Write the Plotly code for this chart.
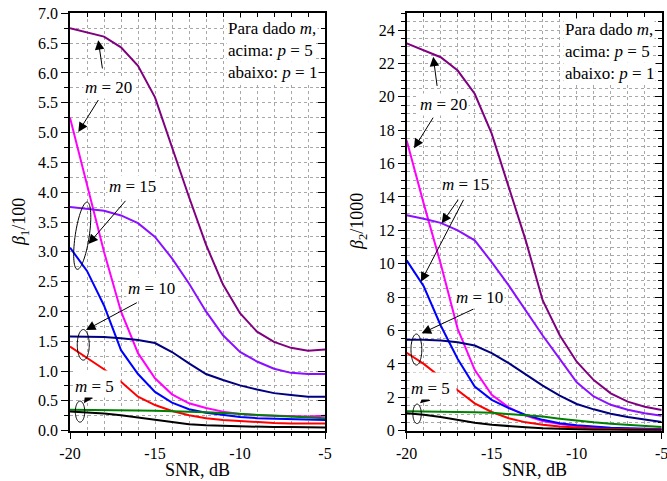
import math
import plotly.graph_objects as go

# SNR grid (dB)
snr = [-20, -19, -18, -17, -16, -15, -14, -13, -12, -11, -10, -9, -8, -7, -6, -5]

# beta_1 / 100  (left panel)
b1_m20_p5 = [6.75, 6.68, 6.61, 6.43, 6.12, 5.59, 4.74, 3.92, 3.12, 2.45, 1.97, 1.66, 1.49, 1.39, 1.34, 1.36]
b1_m20_p1 = [5.25, 4.12, 3.00, 2.00, 1.30, 0.88, 0.61, 0.46, 0.38, 0.32, 0.28, 0.26, 0.25, 0.24, 0.24, 0.25]
b1_m15_p5 = [3.75, 3.72, 3.69, 3.61, 3.48, 3.25, 2.89, 2.47, 2.00, 1.60, 1.32, 1.16, 1.04, 0.97, 0.95, 0.95]
b1_m15_p1 = [3.07, 2.68, 2.10, 1.35, 0.95, 0.65, 0.47, 0.36, 0.30, 0.26, 0.23, 0.21, 0.20, 0.19, 0.19, 0.18]
b1_m10_p5 = [1.58, 1.58, 1.57, 1.55, 1.52, 1.47, 1.32, 1.13, 0.95, 0.85, 0.76, 0.69, 0.63, 0.60, 0.57, 0.57]
b1_m10_p1 = [1.41, 1.22, 1.03, 0.82, 0.57, 0.43, 0.33, 0.26, 0.21, 0.18, 0.16, 0.14, 0.13, 0.12, 0.12, 0.12]
b1_m5_p5 = [0.35, 0.35, 0.35, 0.345, 0.34, 0.335, 0.33, 0.32, 0.31, 0.295, 0.28, 0.265, 0.25, 0.235, 0.22, 0.21]
b1_m5_p1 = [0.32, 0.31, 0.29, 0.26, 0.22, 0.18, 0.14, 0.11, 0.09, 0.08, 0.07, 0.065, 0.06, 0.06, 0.055, 0.055]

# beta_2 / 1000  (right panel)
b2_m20_p5 = [23.2, 22.8, 22.37, 21.57, 20.18, 17.79, 14.6, 11.4, 7.8, 5.72, 4.13, 3.03, 2.24, 1.74, 1.44, 1.24]
b2_m20_p1 = [17.38, 13.6, 10.0, 6.1, 3.65, 2.15, 1.4, 0.9, 0.58, 0.4, 0.28, 0.2, 0.15, 0.12, 0.11, 0.1]
b2_m15_p5 = [12.9, 12.7, 12.45, 12.0, 11.4, 10.1, 8.7, 7.2, 5.7, 4.3, 2.9, 2.05, 1.55, 1.25, 1.05, 0.9]
b2_m15_p1 = [10.2, 8.65, 6.3, 4.3, 2.65, 1.85, 1.35, 0.95, 0.65, 0.45, 0.32, 0.24, 0.18, 0.14, 0.11, 0.09]
b2_m10_p5 = [5.45, 5.45, 5.4, 5.3, 5.1, 4.65, 4.05, 3.35, 2.7, 2.1, 1.6, 1.28, 1.02, 0.82, 0.65, 0.52]
b2_m10_p1 = [4.67, 4.0, 3.2, 2.42, 1.64, 1.12, 0.75, 0.5, 0.35, 0.25, 0.18, 0.13, 0.1, 0.08, 0.07, 0.06]
b2_m5_p5 = [1.17, 1.16, 1.15, 1.13, 1.1, 1.07, 1.01, 0.95, 0.85, 0.72, 0.6, 0.5, 0.42, 0.35, 0.28, 0.22]
b2_m5_p1 = [1.04, 0.96, 0.82, 0.65, 0.48, 0.36, 0.27, 0.2, 0.14, 0.1, 0.08, 0.06, 0.05, 0.04, 0.03, 0.03]

x_tickvals = [-20, -15, -10, -5]
x_ticktext = ["-20", "-15", "-10", "-5"]
y1_tickvals = [0.0, 0.5, 1.0, 1.5, 2.0, 2.5, 3.0, 3.5, 4.0, 4.5, 5.0, 5.5, 6.0, 6.5, 7.0]
y1_ticktext = ["0.0", "0.5", "1.0", "1.5", "2.0", "2.5", "3.0", "3.5", "4.0", "4.5", "5.0", "5.5", "6.0", "6.5", "7.0"]
y2_tickvals = [0, 2, 4, 6, 8, 10, 12, 14, 16, 18, 20, 22, 24]

W, H = 667, 481
FONT = "'Liberation Serif', 'Times New Roman', serif"
XR = [-20, -5]
Y1R = [0, 7]
Y2R = [0, 25]
DOM_L = [70 / W, 325 / W]
DOM_R = [406.7 / W, 661.7 / W]
DOM_Y = [(H - 430.7) / H, (H - 13.3) / H]

series = [
    ("m20p5", "#800080"), ("m20p1", "#FF00FF"),
    ("m15p5", "#8A10FF"), ("m15p1", "#0000FF"),
    ("m10p5", "#000080"), ("m10p1", "#FF0000"),
    ("m5p5", "#008000"), ("m5p1", "#000000"),
]
left_vals = [b1_m20_p5, b1_m20_p1, b1_m15_p5, b1_m15_p1, b1_m10_p5, b1_m10_p1, b1_m5_p5, b1_m5_p1]
right_vals = [b2_m20_p5, b2_m20_p1, b2_m15_p5, b2_m15_p1, b2_m10_p5, b2_m10_p1, b2_m5_p5, b2_m5_p1]

fig = go.Figure()
for (name, col), yl, yr in zip(series, left_vals, right_vals):
    fig.add_trace(go.Scatter(x=snr, y=yl, mode="lines", line=dict(color=col, width=2),
                             xaxis="x", yaxis="y", showlegend=False, name=name))
    fig.add_trace(go.Scatter(x=snr, y=yr, mode="lines", line=dict(color=col, width=2),
                             xaxis="x2", yaxis="y2", showlegend=False, name=name))

# empty traces so the mirrored (inside-tick) axes get drawn
for xa, ya in [("x3", "y3"), ("x4", "y4")]:
    fig.add_trace(go.Scatter(x=[None], y=[None], xaxis=xa, yaxis=ya, showlegend=False, hoverinfo="skip"))

grid = dict(showgrid=True, gridcolor="#a8a8a8", griddash="dot", gridwidth=1)
tickfont = dict(family=FONT, size=16, color="black")


def xaxis_main(domain, anchor):
    return dict(domain=domain, anchor=anchor, range=XR, tickmode="array", tickvals=x_tickvals,
                ticktext=x_ticktext, ticks="outside", ticklen=7, tickwidth=1.2, tickcolor="black",
                showline=True, linecolor="black", linewidth=1.5, mirror=True, zeroline=False,
                automargin=False, ticklabeloverflow="allow", tickfont=tickfont, **grid,
                minor=dict(tickmode="array", tickvals=snr, ticks="outside", ticklen=4, tickwidth=1,
                           tickcolor="black", **grid))


def xaxis_top(over, anchor):
    return dict(overlaying=over, anchor=anchor, side="top", range=XR, tickmode="array",
                tickvals=x_tickvals, ticks="inside", ticklen=7, tickwidth=1.2, tickcolor="black",
                showticklabels=False, showgrid=False, showline=False, zeroline=False, automargin=False,
                minor=dict(tickmode="array", tickvals=snr, ticks="inside", ticklen=4, tickwidth=1,
                           tickcolor="black", showgrid=False))


def yaxis_main(anchor, rng, tv, tt, minor_dtick):
    d = dict(domain=DOM_Y, anchor=anchor, range=rng, tickmode="array", tickvals=tv,
             ticks="outside", ticklen=7, tickwidth=1.2, tickcolor="black",
             showline=True, linecolor="black", linewidth=1.5, mirror=True, zeroline=False,
             automargin=False, tickfont=tickfont, **grid,
             minor=dict(tickmode="linear", tick0=0, dtick=minor_dtick, ticks="outside", ticklen=4,
                        tickwidth=1, tickcolor="black", **grid))
    if tt is not None:
        d["ticktext"] = tt
    return d


def yaxis_right(over, anchor, rng, tv, minor_dtick):
    return dict(overlaying=over, anchor=anchor, side="right", range=rng, tickmode="array",
                tickvals=tv, ticks="inside", ticklen=7, tickwidth=1.2, tickcolor="black",
                showticklabels=False, showgrid=False, showline=False, zeroline=False, automargin=False,
                minor=dict(tickmode="linear", tick0=0, dtick=minor_dtick, ticks="inside", ticklen=4,
                           tickwidth=1, tickcolor="black", showgrid=False))


fig.update_layout(
    template="none",
    width=W, height=H, margin=dict(l=0, r=0, t=0, b=0, pad=0),
    paper_bgcolor="white", plot_bgcolor="white",
    font=dict(family=FONT, size=16, color="black"),
    xaxis=xaxis_main(DOM_L, "y"),
    yaxis=yaxis_main("x", Y1R, y1_tickvals, y1_ticktext, 0.25),
    xaxis2=xaxis_main(DOM_R, "y2"),
    yaxis2=yaxis_main("x2", Y2R, y2_tickvals, None, 0.5),
    xaxis3=xaxis_top("x", "y"),
    yaxis3=yaxis_right("y", "x", Y1R, y1_tickvals, 0.25),
    xaxis4=xaxis_top("x2", "y2"),
    yaxis4=yaxis_right("y2", "x2", Y2R, y2_tickvals, 0.5),
)

# pixel scales of each panel (px per data unit)
plot_w = (DOM_L[1] - DOM_L[0]) * W
plot_h = (DOM_Y[1] - DOM_Y[0]) * H
SX = plot_w / (XR[1] - XR[0])
SY1 = plot_h / (Y1R[1] - Y1R[0])
SY2 = plot_h / (Y2R[1] - Y2R[0])


def ellipse_path(cx, cy, a_px, b_px, ang_deg, sy, n=72):
    """Ellipse with semi-axes in pixels, rotated by ang_deg, expressed in data units."""
    t0 = math.radians(ang_deg)
    pts = []
    for k in range(n + 1):
        t = 2 * math.pi * k / n
        dx, dy = a_px * math.cos(t), b_px * math.sin(t)
        px = dx * math.cos(t0) - dy * math.sin(t0)
        py = dx * math.sin(t0) + dy * math.cos(t0)
        pts.append((cx + px / SX, cy + py / sy))
    return "M " + " L ".join(f"{x:.4f},{y:.4f}" for x, y in pts) + " Z"


shapes = [
    dict(type="path", xref="x", yref="y", path=ellipse_path(-19.28, 3.27, 34, 7, 81.5, SY1)),
    dict(type="path", xref="x", yref="y", path=ellipse_path(-19.22, 1.44, 15.3, 6, 90, SY1)),
    dict(type="path", xref="x", yref="y", path=ellipse_path(-19.41, 0.32, 10.5, 4.7, 90, SY1)),
    dict(type="path", xref="x2", yref="y2", path=ellipse_path(-19.43, 4.86, 15.5, 5.4, 90, SY2)),
    dict(type="path", xref="x2", yref="y2", path=ellipse_path(-19.39, 1.01, 9.7, 4.2, 90, SY2)),
]
for s in shapes:
    s["line"] = dict(color="black", width=1)
fig.update_layout(shapes=shapes)

lab_font = dict(family=FONT, size=17, color="black")
ann = []


def arrow(xr, yr, tail, tip):
    ann.append(dict(xref=xr, yref=yr, axref=xr, ayref=yr, x=tip[0], y=tip[1], ax=tail[0], ay=tail[1],
                    text="", showarrow=True, arrowhead=2, arrowsize=1.9, arrowwidth=1,
                    arrowcolor="black", standoff=0, startstandoff=0))


def label(xr, yr, x, y, txt, **kw):
    d = dict(xref=xr, yref=yr, x=x, y=y, text=txt, showarrow=False, font=lab_font,
             bgcolor="white", borderpad=1)
    d.update(kw)
    ann.append(d)


# left panel
arrow("x", "y", (-18.08, 6.05), (-18.34, 6.55))
arrow("x", "y", (-18.28, 5.57), (-19.51, 5.01))
arrow("x", "y", (-16.66, 3.88), (-18.92, 3.13))
arrow("x", "y", (-15.98, 2.16), (-19.06, 1.69))
arrow("x", "y", (-18.68, 0.67), (-19.18, 0.46))
label("x", "y", -17.76, 5.76, "<i>m</i> = 20")
label("x", "y", -16.32, 4.10, "<i>m</i> = 15")
label("x", "y", -15.18, 2.39, "<i>m</i> = 10")
label("x", "y", -18.41, 0.78, "<i>m</i> = 5", width=44, height=24, align="left", valign="bottom")

# right panel
arrow("x2", "y2", (-18.20, 20.56), (-18.44, 22.40))
arrow("x2", "y2", (-18.39, 18.84), (-19.57, 16.91))
arrow("x2", "y2", (-16.91, 13.92), (-17.94, 12.42))
arrow("x2", "y2", (-16.61, 13.92), (-19.16, 8.92))
arrow("x2", "y2", (-15.98, 7.33), (-19.12, 5.83))
arrow("x2", "y2", (-18.53, 2.24), (-19.22, 1.64))
label("x2", "y2", -17.86, 19.56, "<i>m</i> = 20")
label("x2", "y2", -16.57, 14.77, "<i>m</i> = 15")
label("x2", "y2", -15.69, 7.98, "<i>m</i> = 10")
label("x2", "y2", -18.45, 2.67, "<i>m</i> = 5", width=44, height=24, align="left", valign="bottom")

# note boxes
note = ["Para dado <i>m</i>,", "acima: <i>p</i> = 5", "abaixo: <i>p</i> = 1"]
for i, line in enumerate(note):
    label("x", "y", -10.84, [6.74, 6.37, 6.00][i], line, xanchor="left")
    label("x2", "y2", -10.82, [24.05, 22.74, 21.42][i], line, xanchor="left")

# axis titles
tfont = dict(family=FONT, size=18, color="black")
title_common = dict(xref="paper", yref="paper", showarrow=False, font=tfont,
                    xanchor="center", yanchor="middle")
ann.append(dict(x=20 / W, y=(H - 222) / H, text="<i>β</i><sub>1</sub>/100", textangle=-90, **title_common))
ann.append(dict(x=358 / W, y=(H - 222) / H, text="<i>β</i><sub>2</sub>/1000", textangle=-90, **title_common))
ann.append(dict(x=197.5 / W, y=(H - 470) / H, text="SNR, dB", **title_common))
ann.append(dict(x=534.2 / W, y=(H - 470) / H, text="SNR, dB", **title_common))
fig.update_layout(annotations=ann)

fig.write_html("out.html")
